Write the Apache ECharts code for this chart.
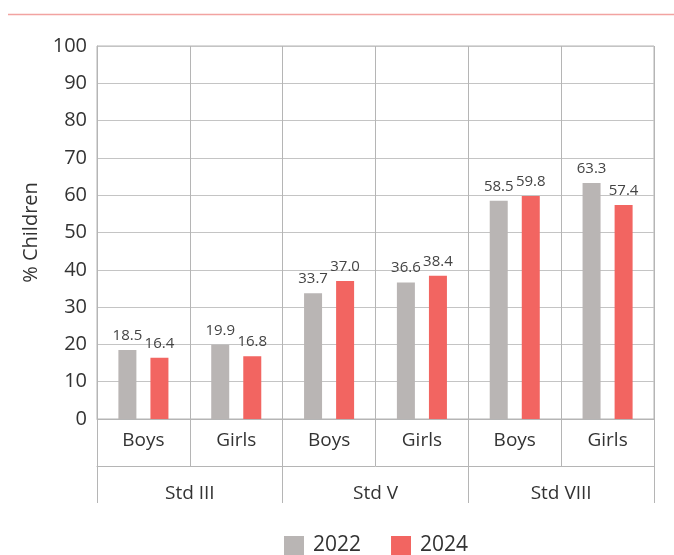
<!DOCTYPE html>
<html><head><meta charset="utf-8">
<script src="https://cdn.jsdelivr.net/npm/echarts@6/dist/echarts.min.js"></script>
<style>html,body{margin:0;padding:0;background:#fff}#c{width:674px;height:555px}</style>
</head><body><div id="c"></div>
<script>
const subCategories = ['Boys','Girls','Boys','Girls','Boys','Girls'];
const groupCategories = ['Std III','Std V','Std VIII'];
const series2022 = [18.5, 19.9, 33.7, 36.6, 58.5, 63.3];
const series2024 = [16.4, 16.8, 37.0, 38.4, 59.8, 57.4];
const seriesNames = ['2022','2024'];
const yTicks = {min:0, max:100, interval:10};

const FONT = '"Open Sans", "Noto Sans", sans-serif';
const chart = echarts.init(document.getElementById('c'), null, {renderer:'canvas'});
const lbl = {show:true, position:'top', distance:7, color:'#444', fontSize:15, fontFamily:FONT,
  formatter: p => p.value.toFixed(1)};
chart.setOption({
  animation:false,
  graphic:[{type:'line', shape:{x1:8,y1:14.5,x2:674,y2:14.5}, style:{stroke:'#f2a3a1', lineWidth:1.5}}],
  grid:{left:97, right:20, top:46, bottom:136, show:true, borderColor:'#b5b5b5', borderWidth:1},
  legend:{top:535, left:284, itemWidth:20, itemHeight:19, itemGap:30, icon:'rect', padding:0,
    textStyle:{fontSize:21, color:'#333', fontFamily:FONT, padding:[0,0,0,4]}, data:seriesNames},
  xAxis:[{
    type:'category', data:subCategories, position:'bottom',
    axisLine:{lineStyle:{color:'#b5b5b5'}},
    axisTick:{show:true, length:47, interval:0, lineStyle:{color:'#b5b5b5'}},
    splitLine:{show:true, interval:0, lineStyle:{color:'#b5b5b5'}},
    axisLabel:{fontSize:19, color:'#333', fontFamily:FONT, margin:12, interval:0}
  },{
    type:'category', data:groupCategories, position:'bottom', offset:47,
    axisLine:{show:true, lineStyle:{color:'#b5b5b5'}},
    axisTick:{show:true, length:37, interval:0, lineStyle:{color:'#b5b5b5'}},
    axisLabel:{fontSize:19, color:'#333', fontFamily:FONT, margin:18, interval:0}
  }],
  yAxis:{
    type:'value', min:yTicks.min, max:yTicks.max, interval:yTicks.interval,
    name:'% Children', nameLocation:'middle', nameGap:52,
    nameTextStyle:{fontSize:20, color:'#333', fontFamily:FONT},
    axisLine:{show:true, lineStyle:{color:'#b5b5b5'}},
    axisTick:{show:false},
    splitLine:{lineStyle:{color:'#c4c4c4'}},
    axisLabel:{fontSize:20, color:'#333', fontFamily:FONT, margin:10}
  },
  series:[
    {name:seriesNames[0], type:'bar', data:series2022, barWidth:18, barGap:'78%',
      itemStyle:{color:'#b9b5b4'}, label:lbl, xAxisIndex:0},
    {name:seriesNames[1], type:'bar', data:series2024, barWidth:18,
      itemStyle:{color:'#f26561'}, label:lbl, xAxisIndex:0}
  ]
});
</script></body></html>
